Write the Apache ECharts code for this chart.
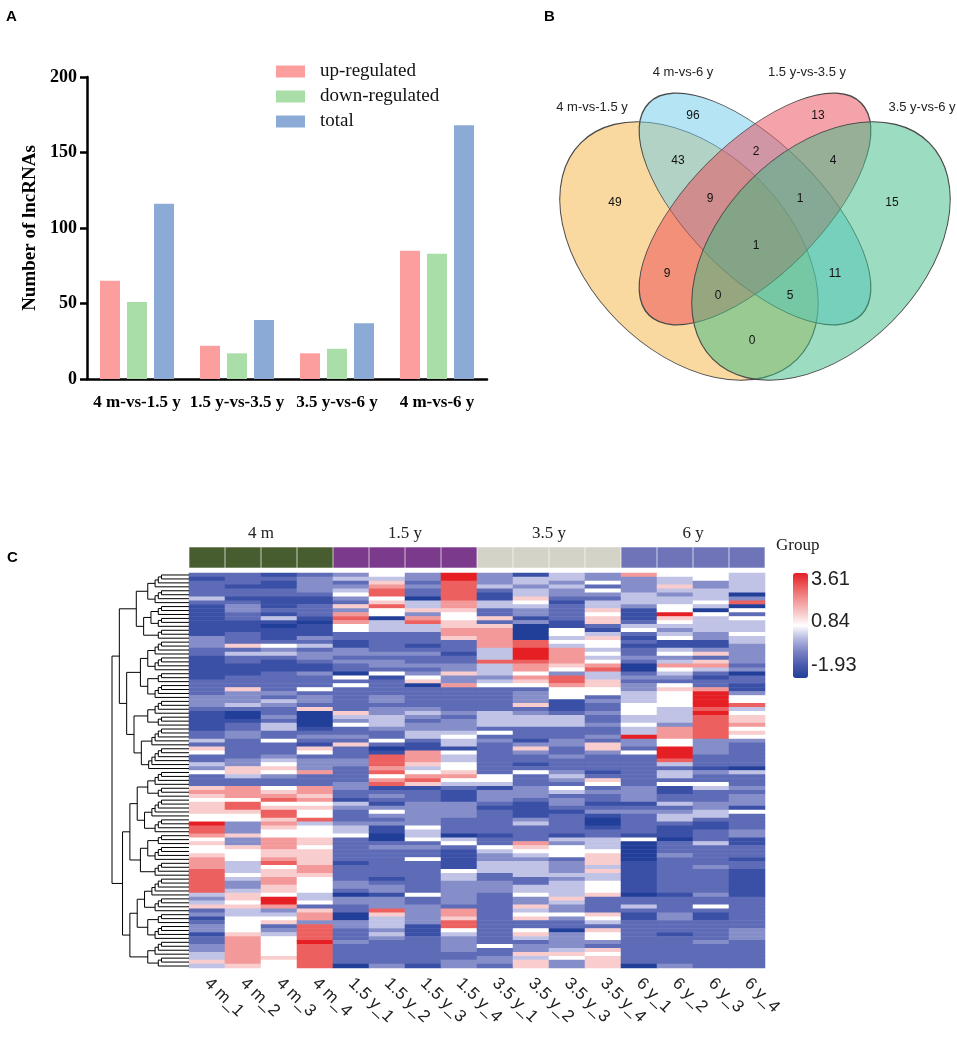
<!DOCTYPE html>
<html>
<head>
<meta charset="utf-8">
<script src="https://cdn.jsdelivr.net/npm/echarts@6/dist/echarts.min.js"></script>
<style>
  html, body { margin: 0; padding: 0; background: #fff; }
  #chart { width: 957px; height: 1049px; }
</style>
</head>
<body>
<div id="chart"></div>
<script>
// ---- A: differentially expressed lncRNAs per comparison
const comparisons = ['4 m-vs-1.5 y', '1.5 y-vs-3.5 y', '3.5 y-vs-6 y', '4 m-vs-6 y'];
const upRegulated = [65, 22, 17, 85];
const downRegulated = [51, 17, 20, 83];
const totalDE = [116, 39, 37, 168];

// ---- B: venn sets and region counts
const vennSets = ['4 m-vs-1.5 y', '4 m-vs-6 y', '1.5 y-vs-3.5 y', '3.5 y-vs-6 y'];
const vennRegions = ['2', '3', '1&2', '2&3', '3&4', '1', '1&2&3', '2&3&4', '4', '1&2&3&4', '1&3', '2&4', '1&3&4', '1&2&4', '1&4'];
const vennCounts = [96, 13, 43, 2, 4, 49, 9, 1, 15, 1, 9, 11, 0, 5, 0];

// ---- C: heatmap
const groups = ['4 m', '1.5 y', '3.5 y', '6 y'];
const samples = ['4 m_1', '4 m_2', '4 m_3', '4 m_4', '1.5 y_1', '1.5 y_2', '1.5 y_3', '1.5 y_4',
  '3.5 y_1', '3.5 y_2', '3.5 y_3', '3.5 y_4', '6 y_1', '6 y_2', '6 y_3', '6 y_4'];
// z-score for each level digit used below
const levelValues = [-1.93, -1.5, -0.95, -0.4, 0.25, 0.84, 1.45, 2.15, 2.85, 3.61];
// one string per sample, one digit per lncRNA row (top to bottom)
const heatLevels = [
  '2122224211111111333221111' + '1122223332111112242652243' + '5222676566655988756556777' + '8888884346231233122334464',
  '2221221233221112226242211' + '1222633342001223322222336' + '6422777588655333633655544' + '4543346656445555677777776',
  '1211221112141011125342111' + '2222232432232442252223456' + '5322567856886765577766785' + '6677665997345623455555655',
  '2333321122210111324233211' + '3222523326000012321652333' + '7222776756558455566566667' + '7655554452677388889888888',
  '3423453263787552211332322' + '0525222222643522326222332' + '2223322143222344522222212' + '2223320332200332223222220',
  '5467885685504442222232332' + '5122223323344432252018887' + '8578123213532311002322222' + '2212331333864443432222223',
  '3323220446378442221232232' + '3560222223432334421177764' + '5786122233333354452322522' + '2222225223333311122222221',
  '9988888776556677622212233' + '6337222222323334544154455' + '6754211133332222045211111' + '5443333332776885433332233',
  '3334211442262677777444844' + '4345222222444425232222222' + '2554133321222222122543344' + '4223332222222222222522332',
  '1443446543313000088999877' + '5765233362344422213632212' + '5222333211113422227654344' + '4422445336456225642336466',
  '4434332122221155454777765' + '3887555111244422233223222' + '3432542332122222143555233' + '3434444643353220333346533',
  '3352532446566214655454578' + '4466552322322322326632222' + '1265232212310012244456664' + '6445556222265426553265666',
  '7333344431112452121223200' + '2323344455544544933252222' + '2222333312322222150000011' + '1111110224211222222222220',
  '5446434455965434511453475' + '4325655554444377755999842' + '4425112242344211102223222' + '2222221222233222122222223',
  '5533444540544443311362674' + '2122799998988888833332221' + '3225422233442112224222223' + '2222223225211222223222222',
  '4444403805254445443333323' + '0221135584566756532222220' + '4222323331522223311222122' + '1111111222222223332222222'
];
// row clustering: nested pairs, a number is a run of rows joined one by one
const dendroTree = [
  [
    [[4, 4], [[3, 3], 3]],
    [[[4, 4], [3, 4]], [[4, 3], [5, 6]]]
  ],
  [
    [[[4, 3], [5, 4]], [[3, 4], 4]],
    [[[5, 4], [3, 4]], [4, 3]]
  ]
];

const serif = '"Liberation Serif", "Times New Roman", serif';
const sans = '"Liberation Sans", Arial, sans-serif';
const groupColors = ['#485d2f', '#7b3a8b', '#d4d3c7', '#6e74b7'];

// venn layout
const vennShapes = [
  { cx: 689, cy: 251, a: 153, b: 100, angle: 45, color: 'rgba(244,180,64,0.5)' },
  { cx: 755, cy: 209, a: 150, b: 66, angle: 45, color: 'rgba(107,203,235,0.5)' },
  { cx: 755, cy: 209, a: 150, b: 66, angle: -45, color: 'rgba(235,71,85,0.5)' },
  { cx: 821, cy: 251, a: 153, b: 100, angle: -45, color: 'rgba(57,187,131,0.5)' }
];
const vennNamePos = [[592, 107], [683, 72], [807, 72], [922, 107]];
const vennCountPos = [[693, 116], [818, 116], [678, 161], [756, 152], [833, 161], [615, 203], [710, 199],
  [800, 199], [892, 203], [756, 246], [667, 274], [835, 274], [718, 296], [790, 296], [752, 341]];

const nRows = heatLevels[0].length;
const rowIds = [];
for (let r = 0; r < nRows; r++) rowIds.push('lnc' + (r + 1));

const heatData = [];
samples.forEach((s, ci) => {
  const col = heatLevels[ci];
  for (let r = 0; r < nRows; r++) {
    heatData.push([ci, r, levelValues[+col[r]]]);
  }
});

const groupBar = samples.map(s => {
  const g = groups.indexOf(s.split('_')[0]);
  return { value: 1, itemStyle: { color: groupColors[g] } };
});

// dendrogram links [h1, y1, h, y2, h2]
const combBase = 3.0;
const combStep = 0.35;
const clusterStep = 0.8;
const dendroLinks = [];
let nextLeaf = 0;
function link(a, b, h) {
  dendroLinks.push([a.h, a.y, h, b.y, b.h]);
  return { y: (a.y + b.y) / 2, h: h };
}
function buildNode(node) {
  if (typeof node === 'number') {
    let cur = { y: nextLeaf++, h: 0 };
    for (let k = 1; k < node; k++) {
      const leaf = { y: nextLeaf++, h: 0 };
      cur = link(cur, leaf, combBase + (k - 1) * combStep);
    }
    return cur;
  }
  const a = buildNode(node[0]);
  const b = buildNode(node[1]);
  return link(a, b, Math.max(a.h, b.h) + clusterStep);
}
const dendroRoot = buildNode(dendroTree);

const graphic = [
  { type: 'text', x: 6, y: 9, style: { text: 'A', font: 'bold 15px ' + sans, fill: '#000' } },
  { type: 'text', x: 544, y: 9, style: { text: 'B', font: 'bold 15px ' + sans, fill: '#000' } },
  { type: 'text', x: 7, y: 550, style: { text: 'C', font: 'bold 15px ' + sans, fill: '#000' } },
  { type: 'text', x: 776, y: 537, style: { text: 'Group', font: '17px ' + serif, fill: '#222' } }
];
vennShapes.forEach(e => {
  graphic.push({
    type: 'circle',
    x: e.cx, y: e.cy,
    scaleX: e.a, scaleY: e.b,
    rotation: -e.angle * Math.PI / 180,
    shape: { cx: 0, cy: 0, r: 1 },
    style: { fill: e.color, stroke: '#4a4a4a', lineWidth: 1, strokeNoScale: true },
    silent: true
  });
});
vennSets.forEach((name, i) => {
  graphic.push({
    type: 'text', x: vennNamePos[i][0], y: vennNamePos[i][1],
    style: { text: name, font: '13px ' + sans, fill: '#222', align: 'center', verticalAlign: 'middle', textAlign: 'center', textVerticalAlign: 'middle' }
  });
});
vennCounts.forEach((n, i) => {
  graphic.push({
    type: 'text', x: vennCountPos[i][0], y: vennCountPos[i][1],
    style: { text: String(n), font: '12px ' + sans, fill: '#111', align: 'center', verticalAlign: 'middle', textAlign: 'center', textVerticalAlign: 'middle' }
  });
});
[['3.61', 579], ['0.84', 621], ['-1.93', 665]].forEach(t => {
  graphic.push({
    type: 'text', x: 811, y: t[1],
    style: { text: t[0], font: '20px ' + sans, fill: '#222', verticalAlign: 'middle', textVerticalAlign: 'middle' }
  });
});

const chart = echarts.init(document.getElementById('chart'));
chart.setOption({
  animation: false,
  backgroundColor: '#fff',
  textStyle: { fontFamily: sans },
  grid: [
    { left: 87, top: 77, width: 400, height: 302 },
    { left: 189, top: 573, width: 576, height: 395 },
    { left: 189, top: 547, width: 576, height: 21 },
    { left: 112, top: 573, width: 77, height: 395 }
  ],
  legend: {
    data: ['up-regulated', 'down-regulated', 'total'],
    orient: 'vertical',
    left: 276, top: 62, padding: 0,
    itemWidth: 29, itemHeight: 12, itemGap: 6,
    icon: 'rect',
    textStyle: { fontFamily: serif, fontSize: 19, color: '#111', lineHeight: 19, padding: [0, 0, 0, 10] }
  },
  xAxis: [
    {
      type: 'category', gridIndex: 0, data: comparisons,
      axisLine: { lineStyle: { color: '#000', width: 2.5 } },
      axisTick: { alignWithLabel: true, length: 7, lineStyle: { width: 2.5, color: '#000' } },
      axisLabel: { interval: 0, margin: 15, color: '#000', fontFamily: serif, fontWeight: 'bold', fontSize: 17 }
    },
    {
      type: 'category', gridIndex: 1, data: samples,
      axisLine: { show: false },
      axisTick: { alignWithLabel: true, length: 6, lineStyle: { color: '#777' } },
      axisLabel: { interval: 0, rotate: -44, margin: 13, color: '#222', fontFamily: sans, fontSize: 17 }
    },
    { type: 'category', gridIndex: 2, data: samples, position: 'bottom', show: false },
    {
      type: 'category', gridIndex: 2, data: groups, position: 'top',
      axisLine: { show: false }, axisTick: { show: false },
      axisLabel: { interval: 0, margin: 5, color: '#222', fontFamily: serif, fontSize: 17 }
    },
    { type: 'value', gridIndex: 3, min: 0, max: dendroRoot.h, inverse: true, show: false }
  ],
  yAxis: [
    {
      type: 'value', gridIndex: 0, min: 0, max: 200, interval: 50,
      name: 'Number of lncRNAs', nameLocation: 'middle', nameGap: 47,
      nameTextStyle: { fontFamily: serif, fontWeight: 'bold', fontSize: 19, color: '#000' },
      axisLine: { show: true, lineStyle: { color: '#000', width: 2.5 } },
      axisTick: { show: true, length: 7, lineStyle: { width: 2.5, color: '#000' } },
      axisLabel: { margin: 10, color: '#000', fontFamily: serif, fontWeight: 'bold', fontSize: 18 },
      splitLine: { show: false }
    },
    { type: 'category', gridIndex: 1, data: rowIds, inverse: true, show: false },
    { type: 'value', gridIndex: 2, min: 0, max: 1, show: false },
    { type: 'value', gridIndex: 3, min: -0.5, max: nRows - 0.5, inverse: true, show: false }
  ],
  visualMap: {
    type: 'continuous',
    seriesIndex: 3,
    min: -1.93, max: 3.61,
    left: 793, top: 573, padding: 0,
    itemWidth: 15, itemHeight: 105,
    calculable: false,
    inRange: { color: ['#213f99', '#4a5aae', '#7a82c4', '#b5b9e0', '#ffffff', '#f8c6c6', '#f29393', '#ec5a5a', '#e51f24'] }
  },
  series: [
    { name: 'up-regulated', type: 'bar', xAxisIndex: 0, yAxisIndex: 0, data: upRegulated, barWidth: 20, barGap: '35%', itemStyle: { color: '#fd9e9e' } },
    { name: 'down-regulated', type: 'bar', xAxisIndex: 0, yAxisIndex: 0, data: downRegulated, barWidth: 20, barGap: '35%', itemStyle: { color: '#a9dea9' } },
    { name: 'total', type: 'bar', xAxisIndex: 0, yAxisIndex: 0, data: totalDE, barWidth: 20, barGap: '35%', itemStyle: { color: '#8baad6' } },
    {
      type: 'heatmap', xAxisIndex: 1, yAxisIndex: 1, data: heatData,
      itemStyle: { borderWidth: 0 }, emphasis: { disabled: true }, progressive: 0
    },
    {
      type: 'bar', xAxisIndex: 2, yAxisIndex: 2, data: groupBar, barCategoryGap: '0%',
      itemStyle: { borderColor: 'rgba(255,255,255,0.12)', borderWidth: 0.6 }, silent: true
    },
    {
      type: 'custom', xAxisIndex: 4, yAxisIndex: 3, data: dendroLinks, silent: true,
      encode: { x: [0, 2, 4], y: [1, 3] },
      renderItem: (params, api) => {
        const p1 = api.coord([api.value(0), api.value(1)]);
        const p2 = api.coord([api.value(2), api.value(1)]);
        const p3 = api.coord([api.value(2), api.value(3)]);
        const p4 = api.coord([api.value(4), api.value(3)]);
        return {
          type: 'polyline',
          shape: { points: [p1, p2, p3, p4] },
          style: { stroke: '#000', lineWidth: 1, fill: null }
        };
      }
    }
  ],
  graphic: graphic
});
</script>
</body>
</html>
